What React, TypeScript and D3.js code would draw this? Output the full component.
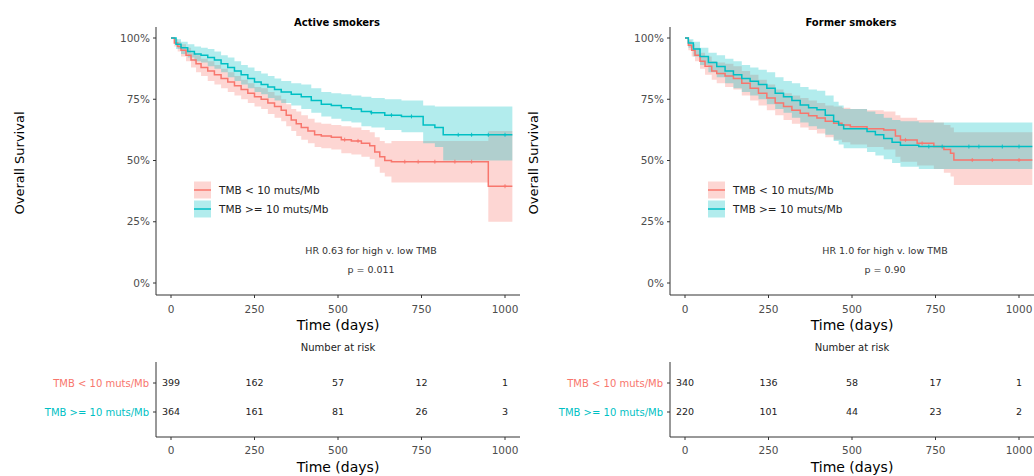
import React from "react";
import * as d3 from "d3";

const RED = "#F8766D";
const CYAN = "#00BFC4";

// ---------- Data ----------
const panelTitles = ["Active smokers", "Former smokers"];
const hrTexts = ["HR 0.63 for high v. low TMB", "HR 1.0 for high v. low TMB"];
const pTexts = ["p = 0.011", "p = 0.90"];
const groupLabels = ["TMB < 10 muts/Mb", "TMB >= 10 muts/Mb"];
const xTicks = [0, 250, 500, 750, 1000];
const yTicks = [0, 0.25, 0.5, 0.75, 1];

// Active smokers, low TMB
const activeLowT = [0,10,20,30,45,60,75,90,110,130,150,170,190,210,230,250,270,290,310,330,345,360,375,390,410,430,450,480,510,540,570,595,610,625,640,660,950,1022];
const activeLowS = [100,98,96.5,95,93,91,89.5,88,86.5,85,83.5,82,80.5,79,77.5,76,75,73.5,72,70.5,68.5,66.5,65,63.5,62,60.5,60,59.5,58.5,58,57,56,53.5,51.5,50,49.5,39.5,39.5];
const activeLowLo = [100,96.5,94.5,92.5,90.5,88,86,84.5,82.5,81,79.5,78,76.5,75,73.5,72,71,69,67.5,66,64,62,60,58.5,57,55.5,55,54.5,53,52.5,51.5,50.5,47.5,45,43.5,41,25,25];
const activeLowHi = [100,99.5,98.5,97.5,96,94,93,91.5,90.5,89,87.5,86,84.5,83,81.5,80,79.5,78,76.5,75,73,71,70,68.5,67,65.5,65,64.5,64,63.5,62.5,61.5,59.5,58,57,58,62,62];
const activeLowCens = [520, 560, 700, 740, 790, 850, 900, 1000];

// Active smokers, high TMB
const activeHighT = [0,15,30,50,70,90,110,130,150,170,190,210,230,250,270,290,310,330,360,390,420,450,480,510,540,570,600,640,690,755,790,815,1022];
const activeHighS = [100,97.5,96,94.5,93.5,93,92,91,89.5,88,86.5,85,83.5,82,81,80,79,78,77,76,74.5,73,72.5,71.5,71,70,69.5,68.5,68,64.5,63.5,60.5,60.5];
const activeHighLo = [100,95.5,93.5,92,90.5,90,88.5,87.5,86,84,82.5,81,79.5,78,77,75.5,74.5,73.5,72.5,71,69.5,68,67,66,65.5,64,63.5,62.5,61.5,57,55.5,50,50];
const activeHighHi = [100,99.5,98.5,97.5,96.5,96,95.5,94.5,93,92,90.5,89,88,86.5,85.5,84.5,83.5,82.5,81.5,81,79.5,78,77.5,77,76.5,76,75.5,75,74.5,72.5,72,72,72];
const activeHighCens = [600, 660, 720, 860, 900, 950, 1000];

// Former smokers, low TMB
const formerLowT = [0,10,20,30,45,60,80,95,120,145,170,195,220,245,270,295,320,345,370,395,420,445,470,495,545,595,630,645,695,745,775,795,805,1040];
const formerLowS = [100,97,95,93,90.5,88.5,86.5,85.5,84.5,83.5,81.5,79.5,77.5,75.5,73.5,72,70.5,69.3,68.3,67.3,66,65.2,64.5,63.8,63,62.5,60,58.4,57,55.7,54.5,53,50.2,50.2];
const formerLowLo = [100,95,92.5,90.5,87.5,85,83,81.5,80,79,76.5,74.5,72.5,70.5,68.5,66.5,65,63.5,62.5,61,59.5,58.5,57.5,56.5,55.5,54.5,51.5,49.5,48,46.5,45,43.5,40,40];
const formerLowHi = [100,99,97.5,96,94,92.5,90.5,90,89.5,88.5,86.5,85,83,81,79,77.5,76.5,75.5,74.5,73.5,72.5,72,71.5,71,70.5,70,68.5,67.5,66.5,65.5,64.5,63.5,61.5,61.5];
const formerLowCens = [660, 710, 860, 920, 1000];

// Former smokers, high TMB
const formerHighT = [0,10,25,45,70,95,120,145,170,195,220,245,270,295,320,345,370,395,420,445,460,475,545,570,595,620,645,700,1040];
const formerHighS = [100,98,95.5,92.5,90,88.4,86.5,85,83.5,82.3,81,79.5,77.5,76,74.5,72.7,71.5,70.7,68.5,65.9,64.5,63,61.8,60.5,59,57.5,56.2,55.7,55.7];
const formerHighLo = [100,96,92.5,89,86,84,81.5,79.5,78,76.5,75,73,71,69.5,67.5,65.5,64,63,60.5,58,56.5,55,53.5,52,50.5,49,47.5,46.5,46.5];
const formerHighHi = [100,99.5,98.5,96,94,93,91.5,90.5,89,88,87,86,84,82.5,81.5,80,79,78.5,76.5,74,72.5,71,70,69,67.5,66.5,66,65.5,65.5];
const formerHighCens = [730, 770, 850, 880, 950, 1000];

// Numbers at risk
const activeRiskLow = [399, 162, 57, 12, 1];
const activeRiskHigh = [364, 161, 81, 26, 3];
const formerRiskLow = [340, 136, 58, 17, 1];
const formerRiskHigh = [220, 101, 44, 23, 2];

type Curve = { t: number[]; s: number[]; lo: number[]; hi: number[]; cens: number[]; color: string };

const panels = [
  {
    title: panelTitles[0], hr: hrTexts[0], p: pTexts[0],
    curves: [
      { t: activeLowT, s: activeLowS, lo: activeLowLo, hi: activeLowHi, cens: activeLowCens, color: RED },
      { t: activeHighT, s: activeHighS, lo: activeHighLo, hi: activeHighHi, cens: activeHighCens, color: CYAN },
    ] as Curve[],
    risk: [activeRiskLow, activeRiskHigh],
  },
  {
    title: panelTitles[1], hr: hrTexts[1], p: pTexts[1],
    curves: [
      { t: formerLowT, s: formerLowS, lo: formerLowLo, hi: formerLowHi, cens: formerLowCens, color: RED },
      { t: formerHighT, s: formerHighS, lo: formerHighLo, hi: formerHighHi, cens: formerHighCens, color: CYAN },
    ] as Curve[],
    risk: [formerRiskLow, formerRiskHigh],
  },
];

const FONT = "DejaVu Sans";
const AXIS = "#333333";
const TICKTXT = "#4D4D4D";

function survAt(c: Curve, time: number) {
  let v = c.s[0];
  for (let i = 0; i < c.t.length; i++) if (c.t[i] <= time) v = c.s[i];
  return v;
}

function Panel({ dx, panel }: { dx: number; panel: typeof panels[0] }) {
  const x = d3.scaleLinear().domain([0, 1000]).range([171, 505]);
  const y = d3.scaleLinear().domain([0, 1]).range([283, 38]);
  const axX0 = 156, axX1 = 520, axY = 295, axTop = 27;

  return (
    <g transform={`translate(${dx},0)`} fontFamily={FONT}>
      <text x={337} y={26} textAnchor="middle" fontSize={10} fontWeight="bold" fill="#000">{panel.title}</text>
      <text transform="translate(24,163) rotate(-90)" textAnchor="middle" fontSize={13} fill="#000">Overall Survival</text>

      {panel.curves.map((c, k) => {
        const idx = d3.range(c.t.length);
        const a = d3
          .area<number>()
          .x((i) => x(c.t[i]))
          .y0((i) => y(c.lo[i] / 100))
          .y1((i) => y(c.hi[i] / 100))
          .curve(d3.curveStepAfter);
        return <path key={"b" + k} d={a(idx) || ""} fill={c.color} fillOpacity={0.3} stroke="none" />;
      })}
      {panel.curves.map((c, k) => {
        const idx = d3.range(c.t.length);
        const l = d3
          .line<number>()
          .x((i) => x(c.t[i]))
          .y((i) => y(c.s[i] / 100))
          .curve(d3.curveStepAfter);
        return <path key={"l" + k} d={l(idx) || ""} fill="none" stroke={c.color} strokeWidth={1.5} />;
      })}
      {panel.curves.map((c, k) =>
        c.cens.map((ct, j) => {
          const cx = x(ct), cy = y(survAt(c, ct) / 100);
          return (
            <path key={`c${k}-${j}`} d={`M${cx},${cy - 2}V${cy + 2}M${cx - 1.5},${cy}H${cx + 1.5}`} stroke={c.color} strokeWidth={0.9} />
          );
        })
      )}

      <line x1={axX0} x2={axX0} y1={axTop} y2={axY} stroke={AXIS} strokeWidth={1} />
      <line x1={axX0} x2={axX1} y1={axY} y2={axY} stroke={AXIS} strokeWidth={1} />
      {yTicks.map((v) => (
        <g key={"yt" + v}>
          <line x1={axX0 - 3} x2={axX0} y1={y(v)} y2={y(v)} stroke={AXIS} />
          <text x={axX0 - 6} y={y(v)} dy="0.35em" textAnchor="end" fontSize={10.5} fill={TICKTXT}>{d3.format(".0%")(v)}</text>
        </g>
      ))}
      {xTicks.map((v) => (
        <g key={"xt" + v}>
          <line x1={x(v)} x2={x(v)} y1={axY} y2={axY + 3} stroke={AXIS} />
          <text x={x(v)} y={313} textAnchor="middle" fontSize={10.5} fill={TICKTXT}>{v}</text>
        </g>
      ))}
      <text x={338} y={330} textAnchor="middle" fontSize={14} fill="#000">Time (days)</text>

      {panel.curves.map((c, k) => {
        const cy = 190 + k * 19;
        return (
          <g key={"lg" + k}>
            <rect x={194} y={cy - 8.5} width={17} height={17} fill={c.color} fillOpacity={0.3} />
            <line x1={194} x2={211} y1={cy} y2={cy} stroke={c.color} strokeWidth={1.5} />
            <text x={219} y={cy} dy="0.35em" fontSize={10.5} fill="#222">{groupLabels[k]}</text>
          </g>
        );
      })}

      <text x={371} y={254} textAnchor="middle" fontSize={9.5} fill="#333">{panel.hr}</text>
      <text x={371} y={273} textAnchor="middle" fontSize={9.5} fill="#333">{panel.p}</text>

      <text x={338} y={351} textAnchor="middle" fontSize={10} fill="#222">Number at risk</text>
      <line x1={axX0} x2={axX0} y1={362} y2={437} stroke={AXIS} />
      <line x1={axX0} x2={axX1} y1={437} y2={437} stroke={AXIS} />
      {panel.risk.map((row, k) => {
        const ry = k === 0 ? 383 : 412;
        return (
          <g key={"rk" + k}>
            <line x1={axX0 - 3} x2={axX0} y1={ry} y2={ry} stroke={AXIS} />
            <text x={149} y={ry} dy="0.35em" textAnchor="end" fontSize={10} fill={panel.curves[k].color}>{groupLabels[k]}</text>
            {row.map((n, j) => (
              <text key={j} x={x(xTicks[j])} y={ry} dy="0.35em" textAnchor="middle" fontSize={9.5} fill="#222">{n}</text>
            ))}
          </g>
        );
      })}
      {xTicks.map((v) => (
        <g key={"rxt" + v}>
          <line x1={x(v)} x2={x(v)} y1={437} y2={440} stroke={AXIS} />
          <text x={x(v)} y={454} textAnchor="middle" fontSize={10.5} fill={TICKTXT}>{v}</text>
        </g>
      ))}
      <text x={338} y={472} textAnchor="middle" fontSize={14} fill="#000">Time (days)</text>
    </g>
  );
}

export default function App() {
  return (
    <svg width={1034} height={476} style={{ position: "absolute", left: 0, top: 0, background: "#fff" }}>
      <rect width={1034} height={476} fill="#fff" />
      <Panel dx={0} panel={panels[0]} />
      <Panel dx={514} panel={panels[1]} />
    </svg>
  );
}
